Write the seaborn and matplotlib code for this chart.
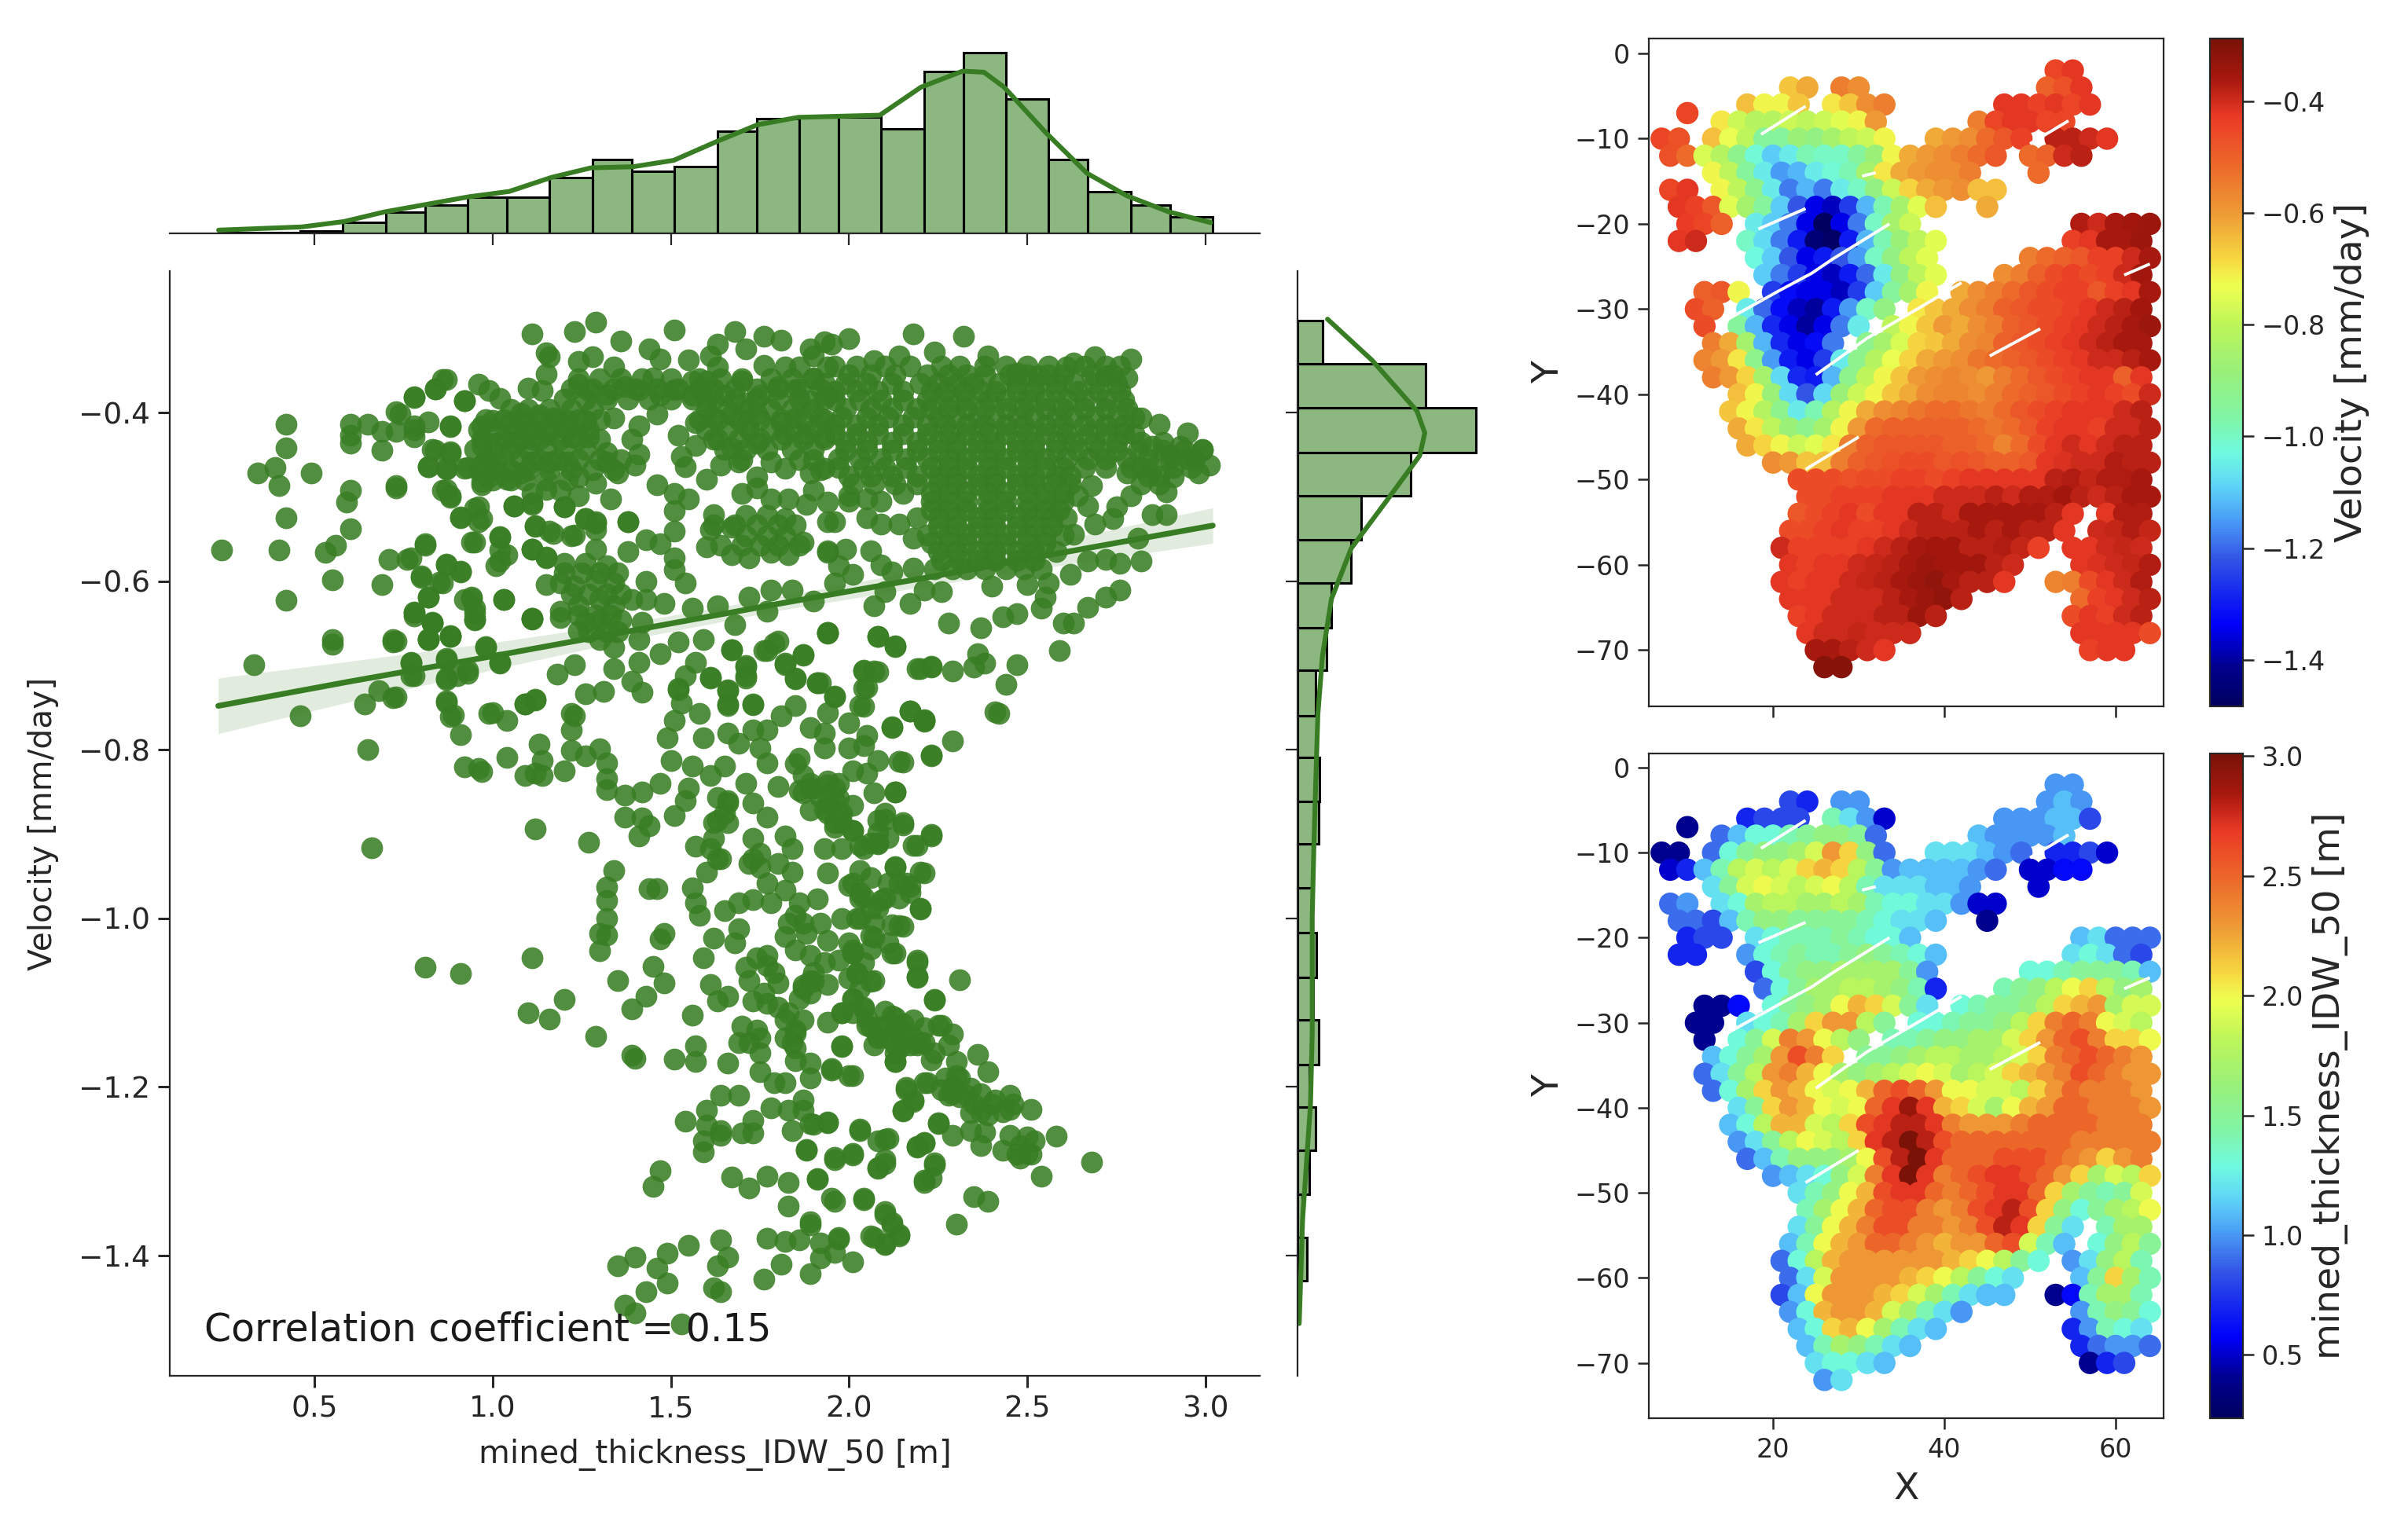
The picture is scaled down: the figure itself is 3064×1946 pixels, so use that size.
import numpy as np
import pandas as pd
import matplotlib
matplotlib.use("Agg")
import matplotlib.pyplot as plt
from matplotlib.cm import ScalarMappable
from matplotlib.colors import LinearSegmentedColormap, Normalize
import seaborn as sns

sns.set_style("ticks")

# (thickness, velocity), by area of the plot
pts_far_left = [(.33,-.699),(.55,-.675),(.72,-.672),(.46,-.760),(.64,-.746),(.72,-.738),(.68,-.730),(.65,-.800),(.66,-.916),
 (.77,-.697),(.78,-.712),(.82,-.668),(.88,-.665),(.83,-.650),(.78,-.641),(.95,-.645),(1.11,-.645),(1.19,-.643),(.98,-.678),
 (1.02,-.697),(.87,-.694),(.87,-.715),(.90,-.712),(.93,-.706),(.87,-.744),(.88,-.761),(.91,-.782),(.99,-.757),(1.04,-.765),
 (1.09,-.746),(1.12,-.740),(1.04,-.809),(.92,-.820),(.96,-.822),(.97,-.826),(1.09,-.831),(1.12,-.828),(1.14,-.831),(1.13,-.793),
 (1.14,-.813),(1.20,-.825),(1.23,-.760),(1.22,-.777),(1.22,-.801),(1.26,-.807),(1.30,-.799),(1.32,-.816),(1.32,-.834),(1.32,-.847),
 (.24,-.563),(.40,-.563),(.42,-.414),(.42,-.442),(.34,-.472),(.39,-.465),(.40,-.487),(.49,-.472),(.42,-.525),(.42,-.623),(.53,-.566),
 (.56,-.557),(.60,-.538),(.55,-.598),(.60,-.414),(.60,-.427),(.60,-.436),(.65,-.414),(.69,-.422),(.69,-.445),(.73,-.489),(.60,-.492),
 (.59,-.506),(.71,-.574),(.76,-.574),(.81,-.557),(.69,-.604),(.80,-.594),(.86,-.602),(.87,-.580),(.91,-.588),(.82,-.619),(.78,-.638),
 (.94,-.621),(.95,-.638),(1.03,-.622),(1.11,-.644),(.55,-.669),(.72,-.669),(.82,-.669),(.88,-.666),(.83,-.650),(.78,-.382),(.74,-.402),
 (.84,-.372),(.86,-.361),(.92,-.386),(.88,-.417),(.78,-.420),(.82,-.464),(.87,-.467),(.93,-.465),(.84,-.445),(.88,-.448),(.86,-.492),
 (.88,-.501),(.91,-.525),(.95,-.514),(.96,-.529),(.97,-.486),(1.06,-.511),(1.11,-.507),(1.12,-.535),(1.17,-.543),(1.23,-.545),(1.11,-.562),
 (1.15,-.571),(.95,-.554),(1.02,-.548),(1.02,-.576),(1.02,-.563),(1.20,-.512),(1.26,-.526),(1.29,-.529),(1.38,-.529)]

pts_top_left = [(1.11,-.307),(1.23,-.304),(1.29,-.293),(1.51,-.302),(1.36,-.315),(1.15,-.329),(1.16,-.334),(1.24,-.339),(1.28,-.334),
 (1.34,-.346),(1.44,-.324),(1.47,-.336),(1.55,-.337),(1.68,-.304),(1.63,-.319),(1.76,-.309),(1.81,-.314),(1.71,-.324),(1.76,-.344),(1.89,-.324),
 (.87,-.361),(.84,-.372),(.78,-.381),(.96,-.366),(.92,-.386),(1.02,-.383),(.99,-.374),(1.10,-.371),(1.15,-.354),(1.14,-.374),(1.24,-.366),(1.20,-.384),
 (1.27,-.374),(1.32,-.378),(1.37,-.369),(1.41,-.373),(1.45,-.359),(1.47,-.379),(1.51,-.373),(1.56,-.363),(1.56,-.379),(1.60,-.363),(1.61,-.333),
 (1.63,-.346),(1.60,-.386),(1.65,-.379),(1.70,-.363),(1.71,-.389),(1.75,-.379),(1.82,-.346),(1.86,-.346),(1.90,-.333),(1.93,-.316),(1.80,-.369),
 (1.85,-.373),(1.90,-.359),(1.94,-.346),(1.94,-.379),(1.89,-.386),(.73,-.399),(.78,-.416),(.82,-.411),(.88,-.416),(.73,-.422),(.78,-.429),(.97,-.416),
 (1.00,-.409),(1.05,-.412),(1.08,-.401),(1.13,-.403),(1.10,-.422),(1.17,-.406),(1.21,-.409),(1.26,-.409),(1.34,-.406),(1.41,-.416),(1.46,-.402),
 (1.52,-.427),(1.57,-.412),(1.62,-.406),(1.67,-.403),(1.71,-.416),(1.74,-.402),(1.81,-.412),(1.85,-.406),(1.92,-.406),(1.93,-.429),(.83,-.444),
 (.88,-.446),(.97,-.439),(1.01,-.436),(1.06,-.436),(1.11,-.432),(1.16,-.426),(1.22,-.429),(1.27,-.429),(1.39,-.432),(1.41,-.449),(1.32,-.447),
 (1.53,-.452),(1.57,-.439),(1.62,-.432),(1.67,-.442),(1.74,-.436),(1.82,-.426),(1.88,-.426),(1.86,-.456),(1.82,-.466),(1.78,-.459),(.82,-.464),
 (.87,-.466),(.92,-.466),(.97,-.462),(1.01,-.459),(1.04,-.479),(.99,-.476),(.97,-.482),(1.08,-.472),(1.11,-.459),(1.16,-.459),(1.21,-.459),
 (1.24,-.476),(1.29,-.484),(1.32,-.459),(1.35,-.472),(1.40,-.462),(1.54,-.464),(1.60,-.479),(1.64,-.462),(1.69,-.459),(1.74,-.476),(1.89,-.472),
 (1.93,-.466),(.73,-.487),(1.46,-.486),(.87,-.491),(.88,-.499),(1.11,-.496),(1.15,-.491),(1.19,-.492),(1.24,-.499),(1.33,-.502),(1.06,-.511),
 (1.11,-.509),(1.20,-.512),(1.51,-.496),(1.55,-.502),(1.51,-.516),(1.70,-.496),(1.74,-.489),(1.78,-.502),(1.83,-.502),(1.88,-.509),(1.90,-.492),(1.94,-.506)]

pts_mid_left = [(1.62,-.521),(1.61,-.539),(1.60,-.559),(1.67,-.536),(1.67,-.569),(1.71,-.522),(1.71,-.546),(1.72,-.572),(1.77,-.522),(1.77,-.546),
 (1.78,-.566),(1.82,-.526),(1.82,-.546),(1.83,-.569),(1.87,-.554),(1.94,-.529),(1.94,-.564),(.96,-.512),(.91,-.524),(.97,-.526),(1.29,-.531),
 (1.12,-.534),(1.16,-.541),(1.22,-.546),(1.26,-.526),(1.38,-.529),(1.29,-.539),(.94,-.554),(1.02,-.547),(.81,-.556),(1.04,-.569),(1.01,-.582),
 (1.11,-.562),(1.15,-.572),(1.29,-.562),(1.38,-.565),(1.43,-.551),(1.47,-.556),(1.51,-.541),(1.51,-.572),(1.51,-.586),(.77,-.572),(.87,-.581),
 (.91,-.589),(.80,-.596),(.85,-.601),(.82,-.619),(.94,-.619),(.92,-.622),(.95,-.632),(.95,-.646),(1.03,-.622),(.78,-.637),(.83,-.649),(1.11,-.644),
 (1.15,-.604),(1.19,-.636),(1.43,-.600),(1.54,-.602),(1.63,-.629),(1.56,-.632),(1.68,-.652),(1.48,-.626),(1.72,-.619),(1.77,-.636),(1.78,-.611),
 (1.84,-.611),(1.90,-.624),(1.94,-.661),(1.20,-.579),(1.26,-.579),(1.32,-.582),(1.19,-.602),(1.23,-.606),(1.29,-.599),(1.34,-.602),(1.24,-.629),
 (1.30,-.622),(1.34,-.629),(1.26,-.649),(1.30,-.646),(1.36,-.646),(1.42,-.649),(1.30,-.669),(1.24,-.659),(1.34,-.679),(1.39,-.622),(1.43,-.622),
 (1.41,-.669),(1.47,-.686),(1.52,-.672),(1.59,-.669),(1.57,-.696),(1.23,-.699),(1.18,-.710),(1.34,-.704),(1.41,-.696),(1.39,-.719),(1.42,-.732),
 (1.31,-.731),(1.26,-.734),(1.67,-.681),(1.71,-.702),(1.71,-.712),(1.79,-.674),(1.76,-.682),(1.87,-.687),(1.82,-.699),(1.85,-.716),(1.91,-.721),
 (1.61,-.714),(1.66,-.729),(1.52,-.729),(1.54,-.712),(1.73,-.746),(1.66,-.746),(.73,-.671),(.82,-.669),(.88,-.666),(.98,-.679),(1.02,-.696),
 (.87,-.692),(.77,-.696),(.77,-.712),(.73,-.737),(.87,-.717),(.93,-.709),(.87,-.742),(.89,-.759),(1.00,-.756),(1.09,-.746),(1.12,-.741),(1.22,-.757)]

pts_middle = [(1.37,-.854),(1.42,-.850),(1.47,-.840),(1.37,-.880),(1.42,-.881),(1.44,-.890),(1.41,-.902),(1.51,-.878),(1.54,-.860),(1.55,-.846),
 (1.12,-.894),(1.27,-.910),(1.34,-.943),(1.32,-.963),(1.32,-.979),(1.32,-1.000),(1.30,-1.018),(1.32,-1.020),(1.30,-1.039),(1.44,-.965),(1.46,-.965),
 (1.48,-1.018),(1.47,-1.025),(1.11,-1.047),(.81,-1.058),(.91,-1.066),(1.45,-1.057),(1.35,-1.074),(1.48,-1.077),(1.43,-1.093),(1.39,-1.108),
 (1.20,-1.096),(1.10,-1.112),(1.16,-1.120),(1.29,-1.140),(1.39,-1.163),(1.40,-1.166),(1.51,-1.167),(1.57,-1.151),(1.57,-1.170),(1.66,-1.172),
 (1.56,-1.115),(1.61,-1.079),(1.63,-1.098),(1.66,-1.093),(1.59,-1.047),(1.62,-1.024),(1.68,-1.029),(1.69,-1.012),(1.65,-.991),(1.69,-.982),
 (1.73,-.978),(1.58,-.997),(1.57,-.982),(1.56,-.964),(1.60,-.945),(1.64,-.929),(1.57,-.915),(1.61,-.917),(1.63,-.884),(1.66,-.860),(1.63,-.857),
 (1.66,-.887),(1.73,-.863),(1.77,-.880),(1.71,-.840),(1.80,-.844),(1.87,-.851),(1.61,-.831),(1.65,-.819),(1.56,-.819),(1.50,-.813),(1.49,-.786),
 (1.51,-.765),(1.58,-.757),(1.52,-.727),(1.53,-.745),(1.59,-.786),(1.66,-.780),(1.69,-.792),(1.73,-.777),(1.77,-.777),(1.75,-.798),(1.77,-.816),
 (1.61,-.715),(1.66,-.730),(1.66,-.748),(1.73,-.747),(1.67,-.681),(1.77,-.682),(1.80,-.671),(1.71,-.700),(1.71,-.715),(1.82,-.697),(1.85,-.715),
 (1.87,-.688),(1.91,-.721),(1.94,-.662),(1.81,-.760),(1.85,-.748),(1.89,-.774),(1.93,-.780),(1.93,-.798),(2.00,-.768),(1.96,-.736),(2.03,-.748),
 (2.04,-.727),(2.08,-.666),(2.13,-.678),(2.04,-.706),(2.08,-.708),(2.20,-.704),(2.23,-.701),(2.17,-.754),(2.21,-.765),(2.12,-.773),(2.05,-.783),
 (2.00,-.798),(2.04,-.795),(2.23,-.806),(2.08,-.813),(2.14,-.814),(2.01,-.825),(2.05,-.828),(2.13,-.850),(2.07,-.851),(1.97,-.840),(1.86,-.810),
 (1.89,-.840),(1.94,-.837),(1.96,-.860),(2.01,-.866),(1.89,-.872),(1.96,-.887),(2.01,-.896),(2.08,-.884),(2.15,-.887),(2.23,-.901),(2.18,-.914),
 (2.08,-.911),(2.03,-.914),(1.93,-.917),(1.94,-.946),(1.84,-.945),(1.84,-.917),(1.73,-.905),(1.82,-.902),(1.80,-.935),(1.73,-.929),(1.77,-.958),
 (1.82,-.967),(1.91,-.977),(1.86,-.982),(1.78,-.982),(1.85,-.997),(1.92,-1.006),(1.88,-1.018),(1.82,-1.022),(1.85,-1.038),(1.94,-1.026),
 (1.98,-1.000),(2.03,-.943),(2.00,-.961),(2.03,-.976),(2.03,-1.000),(2.08,-.988),(2.13,-.940),(2.16,-.958),(2.20,-.945),(2.20,-.988),(2.14,-1.009),
 (2.01,-1.038),(2.07,-1.023),(2.13,-1.041),(2.19,-1.050),(2.19,-1.069),(1.77,-1.044),(1.89,-1.044),(1.79,-1.065),(1.71,-1.058),(1.72,-1.074),
 (1.89,-1.074),(1.86,-1.095),(2.02,-1.065),(2.07,-1.074),(1.97,-1.050),(1.73,-1.098),(1.77,-1.101),(2.01,-1.095),(1.98,-1.112),(1.94,-1.123),
 (1.70,-1.128),(1.74,-1.133),(1.82,-1.121),(1.87,-1.121),(1.84,-1.148),(1.69,-1.148),(1.75,-1.160),(1.98,-1.151),(2.05,-1.127),(2.13,-1.118),
 (2.08,-1.142),(2.18,-1.121),(2.14,-1.154),(2.24,-1.096),(2.25,-1.127),(2.21,-1.148),(2.13,-1.170)]

# the tighter clumps in the stem of the cloud
pts_stem_clumps = [(1.74,-1.047),(1.77,-1.056),(1.80,-1.077),(1.76,-1.089),(1.80,-1.106),(1.83,-1.112),(1.85,-1.136),(1.82,-1.142),(1.75,-1.142),(1.72,-1.148),
 (1.90,-1.065),(1.93,-1.053),(1.89,-1.089),(1.87,-1.080),(2.01,-1.041),(2.04,-1.053),(2.00,-1.071),(2.03,-1.083),(2.04,-1.106),(2.01,-1.112),(2.00,-1.029),
 (2.11,-1.029),(2.07,-1.006),(2.03,-.970),(2.06,-.988),(2.10,-.976),(2.14,-.976),(2.17,-.970),(2.06,-.952),(2.11,-.958),(1.89,-.846),(1.92,-.857),(1.94,-.863),
 (1.87,-.831),(1.96,-.846),(1.97,-.875),(1.94,-.875),(1.98,-.887),(2.08,-.899),(2.10,-.875),(2.06,-.911),(1.75,-.923),(1.72,-.935),(1.75,-.940),(1.62,-.887),
 (1.65,-.875),(1.62,-.905),(1.66,-.863),(1.63,-.929),(1.87,-1.006),(1.83,-1.006),(2.08,-1.130),(2.14,-1.130),(2.11,-1.142),(2.18,-1.142),(2.05,-1.120),
 (2.08,-1.140),(2.10,-1.110),(2.13,-1.130),(2.16,-1.140),(2.19,-1.150),(2.21,-1.130),(2.07,-1.150),(2.13,-1.160),(2.24,-1.160),(2.27,-1.190),(2.29,-1.200),
 (2.31,-1.190),(2.33,-1.210),(2.35,-1.220),(2.28,-1.210),(2.37,-1.230),(2.40,-1.220),(2.43,-1.230),(2.46,-1.220),(2.48,-1.270),(2.50,-1.260),(2.47,-1.280),(2.51,-1.280)]

pts_low = [(1.75,-1.182),(1.82,-1.195),(1.79,-1.195),(1.85,-1.169),(1.89,-1.172),(1.89,-1.190),(1.87,-1.216),(1.95,-1.178),(2.01,-1.187),
 (1.64,-1.210),(1.69,-1.210),(1.60,-1.228),(1.54,-1.241),(1.60,-1.246),(1.64,-1.252),(1.59,-1.264),(1.59,-1.277),(1.64,-1.258),(1.70,-1.255),
 (1.73,-1.255),(1.73,-1.240),(1.78,-1.225),(1.83,-1.228),(1.87,-1.228),(1.84,-1.252),(1.89,-1.244),(1.94,-1.242),(1.88,-1.274),(1.96,-1.284),
 (2.01,-1.281),(2.03,-1.252),(2.08,-1.264),(2.11,-1.261),(2.10,-1.287),(2.08,-1.296),(2.16,-1.201),(2.22,-1.195),(2.18,-1.216),(2.15,-1.228),
 (2.25,-1.243),(2.19,-1.271),(2.21,-1.267),(2.24,-1.290),(2.21,-1.311),(1.47,-1.300),(1.45,-1.318),(1.67,-1.307),(1.72,-1.320),(1.77,-1.306),
 (1.83,-1.314),(1.83,-1.342),(1.91,-1.309),(1.95,-1.332),(2.04,-1.332),(2.10,-1.348),(2.12,-1.361),(2.14,-1.375),(2.06,-1.377),(2.10,-1.386),
 (1.89,-1.360),(1.77,-1.380),(1.82,-1.384),(1.86,-1.382),(1.92,-1.385),(1.97,-1.379),(1.92,-1.403),(1.96,-1.397),(2.01,-1.408),(1.89,-1.422),
 (1.81,-1.411),(1.76,-1.428),(1.64,-1.382),(1.66,-1.402),(1.63,-1.412),(1.62,-1.439),(1.64,-1.443),(1.55,-1.388),(1.49,-1.398),(1.40,-1.402),
 (1.35,-1.412),(1.46,-1.415),(1.49,-1.433),(1.43,-1.443),(1.37,-1.459),(1.40,-1.468),(1.53,-1.481)]

pts_lower_right = [(2.42,-.757),(2.21,-.766),(2.29,-.790),(2.23,-.807),(2.12,-.774),(2.15,-.815),(2.13,-.850),(2.15,-.889),(2.23,-.902),(2.19,-.914),
 (2.21,-.946),(2.13,-.939),(2.20,-.989),(2.17,-.962),(2.15,-1.010),(2.19,-1.053),(2.19,-1.070),(2.31,-1.073),(2.24,-1.097),(2.26,-1.127),(2.29,-1.137),
 (2.28,-1.150),(2.36,-1.162),(2.39,-1.182),(2.30,-1.170),(2.30,-1.187),(2.34,-1.202),(2.31,-1.212),(2.37,-1.208),(2.41,-1.216),(2.45,-1.210),
 (2.45,-1.227),(2.51,-1.227),(2.34,-1.231),(2.39,-1.233),(2.58,-1.259),(2.52,-1.264),(2.50,-1.279),(2.48,-1.285),(2.43,-1.275),(2.45,-1.258),
 (2.37,-1.270),(2.34,-1.252),(2.38,-1.254),(2.68,-1.289),(2.54,-1.306),(2.29,-1.258),(2.25,-1.244),(2.21,-1.266),(2.19,-1.272),(2.24,-1.293),
 (2.23,-1.308),(2.21,-1.314),(2.35,-1.330),(2.39,-1.336),(2.30,-1.363),(2.16,-1.204),(2.21,-1.195),(2.18,-1.218),(2.15,-1.229),(2.13,-1.170),
 (2.23,-1.168),(2.17,-1.150),(2.20,-1.148),(2.15,-1.125),(2.12,-1.116),(2.09,-1.129),(2.06,-1.129),(2.00,-1.187),(1.95,-1.180),(1.98,-1.152),
 (2.10,-1.262),(2.03,-1.250),(2.10,-1.291),(2.08,-1.297),(2.01,-1.279),(1.96,-1.287),(2.04,-1.334),(1.96,-1.336),(2.10,-1.352),(2.12,-1.364),
 (2.14,-1.377),(2.07,-1.379),(2.10,-1.387),(1.97,-1.381),(1.89,-1.364),(1.91,-1.310),(1.88,-1.275),(1.94,-1.243),(1.90,-1.245),(1.85,-.817),
 (1.86,-.848),(1.90,-.846),(1.94,-.842),(1.97,-.858),(1.93,-.871),(1.98,-.875),(1.96,-.892),(2.01,-.896),(1.98,-.917),(2.04,-.917),(2.08,-.912),
 (2.10,-.883),(2.11,-.904),(2.01,-.958),(2.04,-.975),(2.09,-.979),(2.14,-.958),(2.12,-1.008),(2.06,-1.021),(2.02,-1.000),(2.01,-1.041),(2.06,-1.037),
 (2.12,-1.041),(2.02,-1.066),(2.06,-1.075),(2.01,-1.096),(1.90,-1.075),(1.87,-1.083),(1.94,-1.079),(1.85,-1.133),(1.85,-1.154),(1.98,-1.112),
 (2.04,-1.108),(2.13,-1.150),(2.29,-1.208),(2.26,-1.204)]

pts_right_edge = [(2.18,-.307),(2.32,-.309),(2.00,-.312),(2.24,-.328),(2.39,-.333),(2.69,-.334),(2.79,-.336),(2.63,-.341),(2.61,-.346),(2.47,-.353),
 (2.53,-.356),(2.72,-.356),(2.78,-.359),(2.07,-.338),(2.14,-.333),(1.95,-.319),(2.82,-.406),(2.87,-.414),(2.95,-.424),(2.99,-.444),(3.01,-.462),
 (2.98,-.472),(2.91,-.476),(2.89,-.494),(2.89,-.521),(2.85,-.521),(2.78,-.472),(2.79,-.499),(2.75,-.512),(2.74,-.526),(2.69,-.532),(2.68,-.487),
 (2.64,-.499),(2.67,-.511),(2.63,-.544),(2.81,-.549),(2.82,-.576),(2.76,-.579),(2.72,-.574),(2.67,-.576),(2.62,-.592),(2.76,-.611),(2.72,-.619),
 (2.67,-.631),(2.63,-.650),(2.60,-.650),(2.59,-.682),(2.56,-.602),(2.55,-.619),(2.54,-.632),(2.50,-.604),(2.40,-.606),(2.26,-.612),(2.21,-.611),
 (2.17,-.626),(2.07,-.629),(1.94,-.661),(2.08,-.666),(2.13,-.677),(2.28,-.650),(2.37,-.655),(2.43,-.642),(2.47,-.639),(2.19,-.704),(2.23,-.702),
 (2.29,-.707),(2.36,-.686),(2.35,-.702),(2.38,-.697),(2.47,-.699),(2.44,-.722),(2.41,-.755),(2.04,-.707),(2.07,-.707),(2.05,-.726),(1.96,-.737),
 (2.04,-.749),(2.17,-.754),(2.21,-.764),(1.92,-.721),(1.94,-.756),(1.96,-.529),(1.99,-.562),(1.94,-.566),(2.06,-.564),(2.09,-.581),(2.12,-.589),
 (2.18,-.584),(1.96,-.602),(2.01,-.592),(2.10,-.612),(1.97,-.582),(2.09,-.532),(2.14,-.532),(2.18,-.549),(2.15,-.496),(2.05,-.502),(2.00,-.499),
 (2.80,-.425),(2.85,-.440),(2.90,-.450),(2.95,-.455),(2.82,-.465),(2.87,-.475),(2.93,-.440)]

# rows of the solid part of the cloud, right side: one velocity, the thicknesses at it
dense_velocity = [-.345,-.355,-.365,-.375,-.385,-.395,-.405,-.415,-.425,-.435,-.445,-.455,-.465,-.475,-.485,-.495,-.505,-.515,-.525,-.535,-.545,-.555,-.565,-.575,-.585]
dense_thickness = [[1.96,2.02,2.10,2.17,2.26,2.31,2.38,2.44,2.50,2.56,2.66,2.72,2.76],
 [2.00,2.06,2.13,2.22,2.28,2.33,2.38,2.45,2.50,2.56,2.60,2.68,2.74],
 [1.93,1.99,2.05,2.12,2.20,2.25,2.30,2.35,2.42,2.47,2.53,2.58,2.63,2.69,2.75],
 [1.96,2.02,2.08,2.15,2.23,2.27,2.32,2.37,2.41,2.47,2.52,2.58,2.64,2.70,2.76],
 [1.96,2.03,2.09,2.15,2.22,2.28,2.33,2.39,2.44,2.50,2.55,2.61,2.66,2.72,2.77],
 [1.99,2.06,2.12,2.19,2.23,2.28,2.33,2.38,2.44,2.49,2.55,2.60,2.66,2.72,2.78],
 [1.98,2.05,2.11,2.18,2.25,2.30,2.36,2.41,2.47,2.52,2.58,2.63,2.69,2.75,2.80],
 [1.96,2.02,2.08,2.15,2.22,2.27,2.33,2.38,2.44,2.49,2.55,2.60,2.66,2.72,2.77],
 [1.96,2.02,2.08,2.15,2.22,2.28,2.33,2.39,2.44,2.50,2.55,2.61,2.67,2.72,2.77],
 [1.99,2.05,2.12,2.19,2.25,2.30,2.36,2.41,2.47,2.52,2.58,2.63,2.69,2.75,2.82,2.88],
 [1.99,2.05,2.12,2.19,2.25,2.30,2.36,2.41,2.47,2.52,2.58,2.64,2.70,2.75,2.81,2.88,2.94,2.99],
 [1.97,2.03,2.09,2.16,2.22,2.28,2.33,2.39,2.44,2.50,2.55,2.61,2.67,2.72,2.78,2.84,2.90,2.97],
 [1.97,2.04,2.10,2.16,2.23,2.28,2.33,2.39,2.44,2.50,2.55,2.60,2.66,2.72,2.79,2.85,2.91,2.96],
 [2.00,2.06,2.12,2.19,2.25,2.30,2.36,2.41,2.47,2.52,2.58,2.62,2.84],
 [2.01,2.07,2.13,2.19,2.25,2.30,2.36,2.41,2.47,2.52,2.57,2.62,2.82,2.87],
 [2.23,2.28,2.33,2.39,2.44,2.50,2.55,2.60],
 [2.00,2.09,2.23,2.28,2.33,2.39,2.44,2.50,2.55,2.60],
 [2.23,2.28,2.33,2.39,2.44,2.50,2.55,2.59],
 [2.05,2.19,2.25,2.30,2.36,2.41,2.47,2.52,2.57,2.61],
 [2.25,2.30,2.36,2.41,2.47,2.52,2.57],
 [2.22,2.28,2.33,2.39,2.44,2.50,2.55,2.60],
 [2.23,2.28,2.33,2.39,2.44,2.50,2.55],
 [2.25,2.30,2.36,2.41,2.47,2.52,2.58],
 [2.26,2.31,2.36,2.41,2.47,2.52],
 [2.24,2.29,2.33,2.38,2.44,2.49,2.54]]

# same for the left part of the band and its clumps
band_velocity = [-.360,-.372,-.384,-.396,-.408,-.420,-.432,-.444,-.456,-.468,-.480,-.533,-.557,-.590,-.615,-.640,-.660]
band_thickness = [[1.24,1.30,1.36,1.42,1.50,1.58,1.64,1.70,1.78,1.84,1.90],
 [1.22,1.28,1.34,1.40,1.46,1.52,1.58,1.62,1.68,1.74,1.80,1.86,1.92],
 [1.26,1.32,1.38,1.44,1.50,1.56,1.62,1.68,1.74,1.80,1.86,1.93],
 [1.05,1.10,1.16,1.22,1.28,1.60,1.66,1.72,1.78,1.84,1.90],
 [.98,1.03,1.08,1.13,1.18,1.24,1.30,1.58,1.63,1.69,1.75,1.81,1.87,1.93],
 [.96,1.01,1.06,1.11,1.16,1.21,1.27,1.60,1.66,1.72,1.78,1.84,1.90],
 [.97,1.03,1.08,1.13,1.19,1.24,1.30,1.63,1.69,1.75,1.81,1.87,1.93],
 [.95,1.00,1.05,1.10,1.15,1.20,1.26,1.65,1.71,1.77,1.84,1.90],
 [.98,1.03,1.08,1.13,1.18,1.24,1.30,1.36,1.70,1.90],
 [.96,1.00,1.05,1.10,1.16,1.22,1.28,1.34,1.92],
 [1.00,1.05,1.09,1.15,1.21],
 [1.62,1.68,1.74,1.80,1.85],
 [1.64,1.70,1.75,1.80,1.86],
 [1.20,1.25,1.30,1.35],
 [1.22,1.27,1.32,1.36],
 [1.24,1.29,1.33],
 [1.27,1.32,1.35]]

# regression line and its band
reg_x = [.23,.60,1.00,1.40,1.80,2.20,2.60,3.02]
reg_y = [-.748,-.719,-.689,-.658,-.627,-.597,-.566,-.534]
reg_low = [-.781,-.743,-.705,-.668,-.635,-.607,-.581,-.555]
reg_high = [-.715,-.695,-.673,-.648,-.619,-.587,-.551,-.513]

# histogram on top
thick_edges = [.23,.35,.46,.58,.70,.81,.93,1.04,1.16,1.28,1.39,1.51,1.63,1.74,1.86,1.97,2.09,2.21,2.32,2.44,2.56,2.67,2.79,2.90,3.02]
thick_counts = [1,1,2,10,20,26,34,34,52,69,58,62,95,107,108,108,97,151,168,125,69,39,26,15]
thick_kde_x = [.231,.465,.583,.697,.815,.932,1.046,1.164,1.276,1.393,1.508,1.625,1.742,1.857,1.971,2.086,2.201,2.318,2.378,2.435,2.551,2.667,2.779,2.897,3.014]
thick_kde_y = [3,6,11,20,27,34,39,52,61,62,68,85,101,108,109,110,136,151,150,136,94,56,35,20,10]

# histogram on the right
vel_edges = [-1.430,-1.379,-1.328,-1.275,-1.224,-1.174,-1.121,-1.070,-1.017,-.964,-.912,-.861,-.809,-.760,-.706,-.655,-.602,-.551,-.499,-.447,-.394,-.342,-.291]
vel_counts = [16,9,21,32,21,37,28,34,26,28,37,39,35,32,51,60,94,113,200,315,227,44]
vel_kde_x = [53,132,211,225,216,157,95,60,44,36,32,29,26,26,26,23,16,9,3]
vel_kde_y = [-.289,-.338,-.398,-.424,-.451,-.505,-.561,-.621,-.689,-.758,-.843,-.912,-.998,-1.066,-1.135,-1.220,-1.289,-1.357,-1.481]

# maps: stretches of points along rows. X goes up by 2 along a stretch.
# velocity in -0.01 mm/day, thickness in 0.1 m
seg_y = [-2,-4,-4,-4,-6,-6,-6,-7,
 -8,-8,-8,-10,-10,-10,-10,-10,
 -12,-12,-12,-12,-12,-14,-14,-14,
 -16,-16,-16,-18,-18,-18,-20,-20,-20,
 -22,-22,-22,-24,-24,-26,-26,
 -28,-28,-28,-30,-30,-30,-32,-32,-32,
 -34,-34,-36,-36,-38,-40,-42,-44,-46,-48,-50,-52,
 -54,-54,-56,-56,-58,-58,-60,-60,-62,-62,-62,
 -64,-64,-66,-66,-68,-68,-70,-70,-72]
seg_x0 = [53,22,28,52,17,27,47,10,
 14,24,44,7,13,21,39,53,
 8,12,36,50,54,13,33,51,
 8,14,44,9,15,45,10,18,56,
 9,17,55,18,50,19,47,
 12,20,42,11,17,37,12,16,34,
 13,31,12,28,13,16,15,16,17,20,23,24,
 23,59,22,58,21,55,22,56,21,53,57,
 22,56,23,55,24,56,25,57,26]
seg_velocity = [[45,42],[66,62],[55,58],[50,47,42],[65,72,72,66],[70,66,58,55],[42,42,44,42,45,42],[45],
 [70,78,82,82,78],[80,78,75,72,60],[55,45,42,42,45,45],[45,47],[65,74,80,95],[95,88,90,85,80,78,72],[62,60,58,52,48,44],[38,38,40,42],
 [47,52],[76,82,92,102,110,105,98,100,100,95,88,72],[62,60,58,55,52,48],[52,50],[40,38],[72,80,95,105,115,112,105,102,98,85],[70,62,60,58,58,55],[52],
 [45,42],[72,80,92,105,118,112,118,105,100,90,78,68,62,60,58],[65,65],[42,44,48],[75,85,95,110,122,135,138,125,112,98,85,75,65],[62],
 [43,45,50],[105,110,118,135,148,135,118,100,85,78],[37,40,36,35,34],
 [42,40],[100,108,118,130,145,147,130,112,98,88,80,75],[44,42,36,36,34],[103,110,122,135,130,122,115,100,90,80,75],[55,52,50,48,44,44,40,36],
 [110,118,125,135,138,130,120,105,90,80,75],[58,55,50,46,44,46,44,40,35],
 [50,48,72],[125,132,135,135,138,125,110,95,85,72],[62,58,55,52,48,46,44,44,48,44,42,36],
 [46,50],[105,120,132,138,140,130,115,100,90],[70,66,62,58,55,50,48,46,46,44,42,40,38,35],
 [46],[95,112,128,135,140,135,118,105],[80,72,66,60,62,58,55,50,48,46,44,42,40,38,36,34],
 [55,62,85,112,128,135,132,118],[92,85,76,68,66,62,58,56,50,48,46,44,42,40,38,36,36],
 [56,60,70,92,115,130,135,125],[105,92,82,74,68,62,60,58,54,52,50,48,46,44,42,40,40,38,36],
 [55,60,68,85,108,128,130,112,92,80,72,66,60,58,56,58,60,55,52,48,46,44,42,42,50,42],
 [65,72,88,108,122,108,88,78,72,66,62,58,56,56,58,55,52,50,48,46,44,42,44,46,40],
 [66,72,82,92,105,98,82,72,62,58,56,54,52,52,54,55,52,48,46,44,42,42,42,40,38],
 [62,70,80,88,92,85,72,60,52,50,50,50,50,50,52,54,52,48,44,42,42,44,40,40,38],
 [62,68,72,78,75,70,55,50,48,48,48,48,50,50,52,56,52,46,42,40,42,40,38,38],
 [58,60,66,65,55,50,48,47,46,46,48,47,48,50,50,48,42,41,40,40,37,38,38],
 [46,46,46,47,46,46,44,44,46,44,42,42,42,42,42,38,37,39,37,37,36],
 [46,46,44,44,44,42,42,42,40,40,40,38,40,37,37,35,38,40,38,36,36],
 [48,46,44,42,46,42,42,38,38,40,36,36,36,36,36,38,42],[42,37,37],
 [46,46,44,42,44,44,42,40,38,38,38,36,38,36,38,38,42],[40,39,37,39],
 [40,44,44,44,44,42,40,38,36,35,35,38,38,37,39,44],[42,42,40,39,40],
 [42,44,42,42,40,39,38,36,34,35,35,35,38,40],[42,41,40,39,37],
 [42,44,42,42,40,39,38,36,34,33,36,38,38,42],[56,55],[46,42,40,37],
 [42,42,42,40,40,40,38,36,34,33,38],[52,44,42,40,38],
 [44,42,40,40,40,38,38,34,38],[46,42,44,40,38],
 [42,40,40,39,40,40,40],[42,42,42,42,46],
 [36,36,38,40,42],[44,42,42],[31,31]]
seg_thickness = [[10,10],[8,7],[10,10],[10,11,10],[7,8,8,8],[14,12,10,5],[10,10,10,11,11,8],[4],
 [9,11,13,13,14],[15,16,16,15,9],[11,10,10,10,10,11],[4,4],[9,13,15,16],[16,17,19,23,21,16,9],[12,12,12,11,10,9],[7,7,8,5],
 [5,7],[11,14,18,19,18,19,21,22,21,18,15,10],[11,11,11,11,10,9],[5,5],[6,6],[12,15,19,20,19,18,19,20,18,14],[12,12,12,11,11,10],[5],
 [9,10],[12,13,17,18,18,17,17,18,17,14,13,13,12,12,10],[5,5],[9,9,8],[11,14,16,16,15,15,15,15,14,13,12,12,11],[4],
 [7,8,8],[12,13,14,14,14,15,14,13,13,11],[11,12,9,9,9],
 [7,7],[10,13,14,15,14,14,15,16,15,14,13,11],[12,13,12,9,8],[8,13,15,16,16,17,17,17,17,15,10],[13,13,14,15,15,15,14,11],
 [9,13,15,17,17,18,18,17,16,14,7],[14,15,16,18,20,21,18,16,17],
 [4,4,6],[13,15,16,17,20,22,21,19,15,12],[13,14,15,15,16,18,21,22,23,17,19,19],
 [4,4],[12,13,14,17,21,23,23,18,15],[13,13,14,15,15,16,18,21,24,25,24,20,19,18],
 [4],[13,15,19,24,23,20,18,16],[14,14,15,16,16,17,17,19,21,23,25,26,24,21,21,20],
 [11,13,15,17,23,26,24,21],[15,15,16,17,18,18,17,17,18,19,21,24,25,26,25,24,23],
 [9,12,15,18,23,24,22,20],[17,16,17,18,19,20,19,17,18,19,21,22,23,24,26,25,24,23,23],
 [9,13,17,21,23,22,20,19,20,22,25,26,25,23,20,20,19,19,18,21,23,25,24,24,24,23],
 [12,15,21,23,22,20,19,20,25,27,29,27,22,21,19,17,20,22,23,25,25,24,24,24,23],
 [11,13,18,22,22,19,18,21,26,27,28,28,27,24,23,23,23,24,25,25,25,25,24,24,24],
 [10,12,15,18,20,19,18,21,27,28,30,28,26,25,25,25,25,25,25,25,24,24,24,24,24],
 [9,11,14,16,16,16,17,20,26,28,30,27,25,25,25,26,26,26,25,24,23,21,23,24],
 [10,11,12,13,16,19,24,27,30,27,24,25,26,27,27,26,25,23,21,17,19,18,21],
 [12,14,16,20,22,26,27,27,25,24,25,26,27,27,25,21,17,15,14,15,19],
 [14,17,20,22,25,26,26,24,23,24,26,27,28,26,21,16,13,15,17,18,20],
 [12,15,20,22,24,26,26,24,24,23,24,26,28,27,21,15,12],[14,17,17],
 [11,14,20,22,23,25,25,24,23,22,23,23,25,26,19,14,11],[13,16,18,15],
 [9,13,18,22,23,23,23,23,23,23,22,21,20,18,15,13],[10,12,16,18,14],
 [9,12,19,23,23,23,23,22,21,20,18,15,13,12],[11,15,21,17,14],
 [8,11,20,23,23,23,22,21,19,17,14,12,11,11],[4,6],[14,17,17,14],
 [10,13,22,23,23,22,19,17,14,12,10],[10,14,16,15,13],
 [11,13,21,22,20,17,14,12,11],[7,10,14,13,12],
 [11,14,17,16,14,12,11],[7,9,10,10,9],
 [12,13,13,12,11],[4,7,8],[10,12]]

# the thin white unmined lines across the panels
gap_x = [[18.6,23.8],[30.4,32],[18.3,23.8],[14.7,20.6,24.5,27,33.6],[25,31,37.5,42],[45.3,51.2],[23.8,30],[61,64],[50,54.5]]
gap_y = [[-9.5,-6.2],[-14.4,-14],[-20.6,-18.2],[-31.2,-27.9,-25.8,-24.1,-20],[-37.7,-33.4,-29.6,-26.9],[-35.5,-32.3],[-48.8,-45],[-26,-24.7],[-10.6,-7.9]]

# colorbar colours as they look in the picture, low to high
cbar_pos = [0,.06,.12,.16,.22,.28,.33,.38,.43,.50,.57,.63,.67,.74,.81,.885,.94,1]
cbar_colors = ["#000060","#000090","#0000fa","#1020f0","#3355e6","#4a9ef5","#5fd5f8","#6ffadf","#80f5a8","#98f07a",
               "#bcf55a","#eeff50","#f7d840","#ee9a35","#ec6a2a","#ea3a25","#a8180e","#7a1208"]

GREEN = "#387d23"
W, H = 3064, 1946


def add_ax(fig, x0, y0, x1, y1):
    # axes box given in pixels of the final picture, y from the top
    return fig.add_axes([x0 / W, 1 - y1 / H, (x1 - x0) / W, (y1 - y0) / H])


# flatten the scatter
all_pts = pts_far_left + pts_top_left + pts_mid_left + pts_middle + pts_stem_clumps + pts_low + pts_lower_right + pts_right_edge
for v, row in zip(dense_velocity + band_velocity, dense_thickness + band_thickness):
    all_pts = all_pts + [(t, v) for t in row]
df_joint = pd.DataFrame(all_pts, columns=["thickness", "velocity"])

# flatten the maps
rows = []
for y, x0, vel, thk in zip(seg_y, seg_x0, seg_velocity, seg_thickness):
    for i, (v, t) in enumerate(zip(vel, thk)):
        rows.append((x0 + 2 * i, y, -v / 100, t / 10))
df_map = pd.DataFrame(rows, columns=["X", "Y", "velocity", "thickness"])

fig = plt.figure(figsize=(W / 200, H / 200), dpi=200)

# joint plot
ax_joint = add_ax(fig, 216, 345, 1603, 1751)
ax_top = add_ax(fig, 216, 55, 1603, 297)
ax_right = add_ax(fig, 1651, 345, 1890, 1751)

sns.regplot(data=df_joint, x="thickness", y="velocity", fit_reg=False, color=GREEN, ax=ax_joint,
            scatter_kws={"s": 100, "linewidths": 0, "alpha": 0.87})
ax_joint.fill_between(reg_x, reg_low, reg_high, color=GREEN, alpha=0.15, linewidth=0)
sns.lineplot(x=reg_x, y=reg_y, color=GREEN, linewidth=2.6, ax=ax_joint, errorbar=None)
ax_joint.set_xlim(0.094, 3.152)
ax_joint.set_ylim(-1.543, -0.232)
ax_joint.set_xticks([0.5, 1.0, 1.5, 2.0, 2.5, 3.0])
ax_joint.set_yticks([-0.4, -0.6, -0.8, -1.0, -1.2, -1.4])
ax_joint.set_xlabel("mined_thickness_IDW_50 [m]", fontsize=14.7, labelpad=7)
ax_joint.set_ylabel("Velocity [mm/day]", fontsize=14.7, labelpad=9)
ax_joint.tick_params(labelsize=13.5, length=5.4, width=1.1)
sns.despine(ax=ax_joint)
ax_joint.text(0.032, 0.032, "Correlation coefficient = 0.15", transform=ax_joint.transAxes, fontsize=17.6, color="0.1")

# marginals
sns.histplot(x=np.diff(thick_edges) / 2 + np.array(thick_edges[:-1]), weights=thick_counts, bins=thick_edges,
             color="#337f1d", alpha=0.56, edgecolor="black", linewidth=1.1, ax=ax_top)
sns.lineplot(x=thick_kde_x, y=thick_kde_y, color=GREEN, linewidth=2.2, ax=ax_top, errorbar=None)
ax_top.set_xlim(ax_joint.get_xlim())
ax_top.set_ylim(0, 177)
ax_top.set_xticks([0.5, 1.0, 1.5, 2.0, 2.5, 3.0])
ax_top.set_xticklabels([])
ax_top.set_yticks([])
ax_top.set_xlabel("")
ax_top.set_ylabel("")
ax_top.tick_params(length=5.4, width=0.8)
sns.despine(ax=ax_top, left=True)

sns.histplot(y=np.diff(vel_edges) / 2 + np.array(vel_edges[:-1]), weights=vel_counts, bins=vel_edges,
             color="#337f1d", alpha=0.56, edgecolor="black", linewidth=1.1, ax=ax_right)
sns.lineplot(x=vel_kde_x, y=vel_kde_y, color=GREEN, linewidth=2.2, ax=ax_right, errorbar=None, orient="y", sort=False)
ax_right.set_ylim(ax_joint.get_ylim())
ax_right.set_xlim(0, 332)
ax_right.set_yticks([-0.4, -0.6, -0.8, -1.0, -1.2, -1.4])
ax_right.set_yticklabels([])
ax_right.set_xticks([])
ax_right.set_xlabel("")
ax_right.set_ylabel("")
ax_right.tick_params(length=5.4, width=0.8)
sns.despine(ax=ax_right, bottom=True)

# maps
map_cmap = LinearSegmentedColormap.from_list("washed_jet", list(zip(cbar_pos, cbar_colors)))
map_specs = [
    ("velocity", (-1.483, -0.288), "Velocity [mm/day]", [-0.4, -0.6, -0.8, -1.0, -1.2, -1.4], 49, 899, (-76.6, 1.75)),
    ("thickness", (0.236, 3.01), "mined_thickness_IDW_50 [m]", [0.5, 1.0, 1.5, 2.0, 2.5, 3.0], 959, 1805, (-76.5, 1.66)),
]
for col, lims, label, cticks, y0, y1, ylim in map_specs:
    ax = add_ax(fig, 2098, y0, 2753, y1)
    cax = add_ax(fig, 2812, y0, 2854, y1)
    sns.scatterplot(data=df_map, x="X", y="Y", hue=col, palette=map_cmap, hue_norm=lims, s=105,
                    linewidth=0, legend=False, ax=ax)
    for gx, gy in zip(gap_x, gap_y):
        ax.plot(gx, gy, color="white", linewidth=1.4, solid_capstyle="butt")
    ax.set_xlim(5.5, 65.6)
    ax.set_ylim(*ylim)
    ax.set_xticks([20, 40, 60])
    ax.set_yticks([0, -10, -20, -30, -40, -50, -60, -70])
    ax.tick_params(labelsize=12, length=5, width=0.9)
    ax.set_ylabel("Y", fontsize=17)
    if col == "velocity":
        ax.set_xticklabels([])
        ax.set_xlabel("")
    else:
        ax.set_xlabel("X", fontsize=17)
    cb = fig.colorbar(ScalarMappable(norm=Normalize(*lims), cmap=map_cmap), cax=cax)
    cb.set_ticks(cticks)
    cb.ax.tick_params(labelsize=12, length=5, width=0.9)
    cb.set_label(label, fontsize=17)

fig.savefig("out.png", dpi=200, facecolor="white")
